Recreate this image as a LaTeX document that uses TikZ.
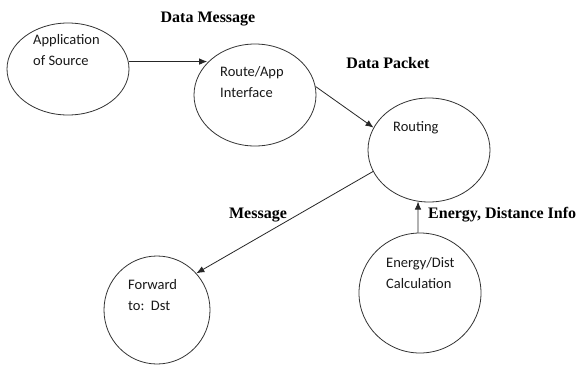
\documentclass[tikz,border=0pt]{standalone}
\usepackage{fontspec}
\setmainfont{Liberation Serif}
\newfontfamily\calfont{Carlito}
\usetikzlibrary{shapes.geometric,arrows.meta}
\begin{document}
\begin{tikzpicture}[x=1pt,y=-1pt,
  bubble/.style={draw=black!80,line width=0.8pt,ellipse,inner sep=0pt},
  ntext/.style={anchor=north west,inner sep=0pt,align=left,text=black!90,
     font=\calfont\fontsize{14.5}{21}\selectfont},
  elabel/.style={anchor=base,inner sep=0pt,font=\bfseries\fontsize{16}{18}\selectfont},
  flow/.style={draw=black!85,line width=0.8pt,-{Latex[length=8pt,width=6.5pt]}}]
\useasboundingbox (0,0) rectangle (576,365);
\fill[white] (0,0) rectangle (576,365);
% ellipses
\node[bubble,minimum width=122pt,minimum height=92pt] (app) at (68,69) {};
\node[bubble,minimum width=122pt,minimum height=102pt] (rapp) at (255,95) {};
\node[bubble,minimum width=122pt,minimum height=104pt] (rout) at (429,150) {};
\node[bubble,minimum width=106pt,minimum height=108pt] (fwd) at (157,310) {};
\node[bubble,minimum width=122pt,minimum height=120pt] (edc) at (420,293) {};
% texts
\node[ntext] (tapp) at (33,34.5) {Application\\of Source};
\node[ntext] (trapp) at (220,66.5) {Route/App\\Interface};
\node[ntext] (trout) at (393,121.5) {Routing};
\node[ntext] (tfwd) at (128,279.5) {Forward\\to:\ \ Dst};
\node[ntext] (tedc) at (386,257.5) {Energy/Dist\\Calculation};
% labels
\node[elabel] (ldm) at (208,22) {Data Message};
\node[elabel] (ldp) at (388,68) {Data Packet};
\node[elabel,anchor=base west] (ledi) at (428,218) {Energy, Distance Info};
\node[elabel] (lmsg) at (258,218) {Message};
% connectors
\draw[flow] (app.7.6) -- (app.7.6 -| rapp.146);
\draw[flow] (rapp.8.4) -- (rout.158);
\draw[flow] (rout.201) -- (fwd.43);
\draw[flow] (edc.92) -- (rout.-102);
\end{tikzpicture}
\end{document}
